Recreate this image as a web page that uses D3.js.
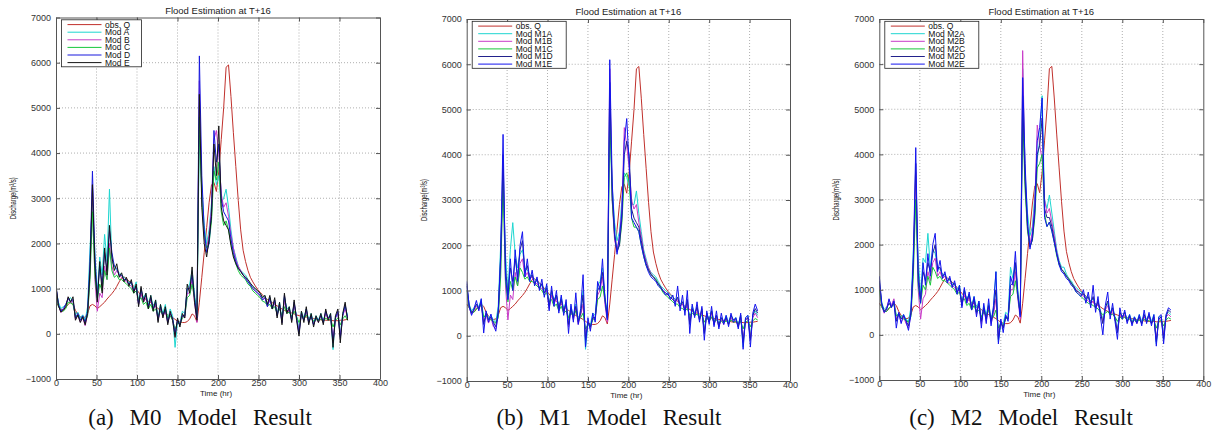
<!DOCTYPE html>
<html>
<head>
<meta charset="utf-8">
<script src="https://cdn.jsdelivr.net/npm/d3@7"></script>
<style>
  body { margin: 0; background: #fff; }
  text { font-family: "Liberation Sans", Arial, sans-serif; }
</style>
</head>
<body>
<svg id="chart" width="1214" height="432"></svg>
<script>
// hours of the event (3-hourly samples)
const hours = [0,3,6,9,12,15,18,21,24,27,30,33,36,39,42,45,48,51,54,57,60,63,66,69,72,75,78,81,84,87,
  90,93,96,99,102,105,108,111,114,117,120,123,126,129,132,135,138,141,144,147,150,153,156,159,162,165,168,171,174,177,
  180,183,186,189,192,195,198,201,204,207,210,213,216,219,222,225,228,231,234,237,240,243,246,249,252,255,258,261,264,267,
  270,273,276,279,282,285,288,291,294,297,300,303,306,309,312,315,318,321,324,327,330,333,336,339,342,345,348,351,354,357,360];

// observed discharge (same in all three panels)
const obsQ = [700,620,540,520,580,650,700,650,520,430,
  380,360,370,450,620,650,620,560,600,650,
  700,770,830,890,960,1050,1150,1240,1260,1220,
  1170,1110,1050,990,920,860,800,760,720,690,
  650,600,560,520,480,450,420,390,360,320,
  280,260,250,250,270,330,440,400,260,700,
  1250,1800,2350,2900,3300,3350,3150,3600,4300,5000,
  5900,5950,5250,4450,3700,2950,2300,1850,1600,1400,
  1250,1150,1060,980,920,860,800,760,720,690,
  650,620,580,550,520,500,480,460,440,420,
  400,390,380,370,360,350,340,330,320,310,
  300,300,300,300,290,290,290,300,300,310,
  320];

// M0 models
const m0A = [1000,700,560,600,640,760,800,700,420,480,
  350,420,300,600,1900,2900,1800,900,1700,1300,
  2200,1600,3200,1600,1500,1400,1350,1300,1250,1200,
  1150,1100,1000,1150,700,950,800,900,650,850,
  600,750,350,650,450,650,300,550,400,-300,
  250,250,500,450,1000,1100,1400,900,400,4400,
  3200,2400,2000,2300,2900,3700,3300,3500,2900,3000,
  3200,2800,2300,1900,1700,1500,1400,1350,1300,1200,
  1100,1050,1000,950,900,800,850,650,800,600,
  700,450,700,300,800,550,600,350,650,400,
  100,500,350,550,300,450,250,400,300,450,
  300,450,350,450,-350,400,450,0,450,600,
  400];
const m0B = [1020,640,470,540,620,800,680,740,320,400,
  260,350,180,420,1300,3300,1200,500,900,800,
  1500,1200,2000,1500,1300,1400,1300,1250,1200,1150,
  1100,1050,950,1000,650,900,700,800,600,750,
  550,650,300,550,380,500,250,450,300,-50,
  300,200,400,350,900,900,1200,700,250,5600,
  3000,2100,1900,2200,2800,4300,4500,4000,3100,2800,
  2900,2600,2200,1900,1650,1500,1400,1300,1250,1150,
  1080,1000,950,900,850,750,800,600,750,550,
  700,400,650,250,750,450,550,300,650,350,
  50,450,300,500,250,400,200,350,250,400,
  250,450,300,400,-150,350,450,-50,400,550,
  350];
const m0C = [950,600,520,500,560,700,680,650,400,380,
  320,350,280,400,1200,2700,1300,750,1100,950,
  1400,1200,1900,1400,1250,1300,1200,1200,1150,1100,
  1050,1000,900,950,750,800,650,700,550,650,
  500,550,400,500,420,550,350,400,300,100,
  250,200,350,400,800,850,1100,800,400,4800,
  3000,2200,1900,2000,2500,3600,3400,3800,2700,2400,
  2500,2300,2000,1750,1550,1400,1300,1250,1200,1100,
  1050,950,900,850,800,720,700,620,650,550,
  600,450,550,400,600,450,480,380,500,380,
  250,400,320,420,300,350,280,320,280,330,
  270,350,300,330,150,300,350,200,330,400,
  300];
const m0D = [1050,650,500,560,650,780,720,760,350,450,
  300,400,250,500,1600,3600,1700,800,1500,1100,
  1800,1400,2300,1800,1500,1450,1300,1300,1200,1200,
  1100,1150,950,1050,650,1000,750,850,600,800,
  550,700,300,600,400,550,250,450,350,0,
  300,200,400,400,1000,1000,1300,800,350,6150,
  3500,2300,1800,2000,2700,4500,3800,4200,3000,2700,
  2600,2500,2100,1800,1600,1450,1380,1300,1220,1150,
  1080,1000,950,900,850,750,800,600,800,550,
  750,400,650,250,850,500,550,300,700,350,
  0,450,300,550,250,400,200,350,300,400,
  250,500,350,400,-200,350,500,-100,400,650,
  350];
const m0E = [1080,620,480,520,600,820,700,820,300,420,
  250,380,200,450,1400,3300,1500,700,1600,900,
  1900,1300,2400,1700,1400,1550,1250,1350,1150,1250,
  1050,1200,900,1100,600,1050,700,900,550,850,
  500,750,250,650,350,600,200,500,300,-80,
  350,150,450,350,1100,900,1480,700,300,5300,
  2800,2000,1700,2100,2600,4200,3500,4600,2800,2500,
  2400,2300,1950,1700,1550,1450,1380,1300,1250,1200,
  1120,1050,1000,950,900,800,850,650,850,550,
  800,350,700,200,900,450,600,250,750,300,
  -50,500,250,600,200,450,150,400,250,450,
  200,550,300,450,-300,400,550,-200,450,700,
  300];

// M1 models
const m1A = [1100,700,550,620,680,650,800,400,480,400,
  450,350,300,650,2000,3400,1800,1000,1900,2500,
  1800,1500,1800,1900,1500,1450,1350,1300,1250,1200,
  1150,1100,1000,1100,700,950,800,900,650,850,
  600,750,350,650,450,700,350,550,1000,-300,
  250,250,500,450,1100,1200,1500,900,450,4800,
  3300,2500,2100,2300,3000,3600,3500,3300,2900,2900,
  3200,2700,2300,1900,1700,1500,1400,1350,1300,1200,
  1100,1050,1000,950,900,850,800,850,700,750,
  600,750,350,650,500,600,400,550,150,500,
  350,550,300,450,250,400,300,450,300,450,
  350,400,250,450,-250,400,450,0,450,550,
  450];
const m1B = [1100,620,480,550,650,580,700,300,450,280,
  400,200,150,450,1500,3700,1100,350,900,800,
  1400,1100,1600,1700,1300,1400,1250,1300,1150,1150,
  1050,1050,950,1000,600,900,700,850,550,800,
  500,700,200,600,350,600,250,450,700,-50,
  300,150,400,350,900,1000,1300,700,300,5900,
  3000,2100,1900,2200,2800,4600,4200,3700,3000,2800,
  2900,2500,2200,1850,1650,1500,1380,1300,1250,1150,
  1080,1000,950,900,850,800,750,800,650,700,
  550,700,300,600,450,600,350,550,100,450,
  300,500,250,400,200,350,250,400,250,400,
  300,350,200,400,-100,350,400,-50,400,500,
  400];
const m1C = [1000,620,520,520,600,620,680,420,450,380,
  350,320,280,400,1300,3400,1200,750,1200,1000,
  1300,1100,1500,1400,1250,1300,1200,1200,1150,1100,
  1050,1000,900,950,750,800,650,700,550,650,
  500,550,400,500,420,550,350,400,500,150,
  250,200,350,400,800,850,1100,800,400,5000,
  3000,2200,1900,2000,2500,3500,3600,3400,2600,2400,
  2400,2300,2000,1750,1550,1450,1350,1300,1250,1150,
  1050,950,900,850,800,750,700,700,620,600,
  550,600,450,500,450,480,400,450,300,400,
  320,420,300,350,280,320,280,330,270,350,
  300,320,260,330,150,300,330,200,330,380,
  350];
const m1D = [1150,680,500,580,700,600,750,250,500,350,
  420,300,200,550,1700,4000,1500,900,1500,1200,
  1700,1300,1900,2100,1400,1550,1250,1350,1150,1250,
  1050,1150,950,1050,650,1000,750,900,600,800,
  550,700,250,600,400,650,300,500,900,-100,
  300,200,400,400,1000,1100,1400,850,400,5600,
  3100,2200,1850,2000,2600,4000,4300,4000,2800,2600,
  2500,2400,2100,1800,1600,1450,1350,1300,1220,1150,
  1080,980,950,900,850,800,750,850,650,750,
  550,800,250,600,450,650,350,600,50,500,
  300,550,250,450,200,400,300,400,250,450,
  350,380,200,450,-150,350,400,-100,450,600,
  500];
const m1E = [1200,650,450,600,780,550,820,60,550,300,
  480,250,100,500,1800,4450,1300,800,1700,1000,
  1900,1200,2000,2300,1300,1700,1200,1450,1100,1300,
  1000,1250,850,1150,550,1100,650,1000,500,900,
  450,800,50,700,300,950,250,600,1350,-250,
  400,100,500,300,1200,1000,1700,800,350,6100,
  3400,2300,1800,2200,2700,4300,4800,3800,2600,2500,
  2400,2300,2000,1750,1550,1400,1300,1250,1200,1100,
  1050,1000,900,950,800,900,650,1100,550,900,
  450,1000,50,700,400,750,300,650,-100,550,
  250,650,200,550,150,500,250,450,200,500,
  300,400,150,500,-300,400,450,-250,500,700,
  550];

// M2 models
const m2A = [1150,720,560,620,700,650,780,420,480,400,
  450,350,300,600,1900,3000,1700,900,1700,1600,
  2250,1500,1900,1800,1500,1450,1350,1300,1250,1200,
  1150,1100,1000,1100,700,950,800,900,650,850,
  600,750,350,650,450,700,350,600,1400,-150,
  250,250,500,450,1500,1250,1600,1000,500,5900,
  3600,2700,2200,2400,3100,3900,4300,5300,3000,2800,
  3100,2700,2300,1900,1650,1500,1500,1350,1250,1200,
  1100,1050,1000,950,900,850,800,750,800,650,
  700,550,350,600,700,500,600,400,150,500,
  400,500,350,450,300,400,300,450,300,450,
  350,450,300,450,-200,400,400,50,450,500,
  450];
const m2B = [1100,650,480,600,780,650,800,350,450,280,
  400,250,150,450,1500,3600,1000,350,800,900,
  1400,1200,1600,1700,1300,1400,1250,1300,1150,1150,
  1100,1050,950,1000,650,900,700,850,550,800,
  450,700,250,600,300,600,250,450,800,-50,
  300,150,400,350,1000,1000,1400,800,350,6300,
  3500,2300,2000,2300,2900,4650,4200,3900,3000,2700,
  2800,2500,2200,1850,1600,1450,1400,1300,1250,1150,
  1080,1000,950,900,850,800,750,700,750,600,
  700,500,300,550,650,450,550,350,100,450,
  350,450,300,400,250,350,250,400,250,400,
  300,400,250,400,-100,350,350,0,400,450,
  400];
const m2C = [1000,620,520,520,600,620,680,420,450,380,
  350,320,280,400,1300,3000,1100,700,1100,1000,
  1300,1100,1500,1400,1250,1300,1200,1200,1150,1100,
  1050,1000,900,950,750,800,650,700,550,650,
  500,550,400,500,420,550,350,400,550,150,
  250,200,350,400,850,900,1200,850,450,4900,
  3200,2300,1950,2100,2600,3700,3800,4000,2700,2400,
  2500,2300,2050,1750,1550,1450,1400,1300,1250,1150,
  1050,950,900,850,800,750,700,680,650,600,
  580,500,450,480,520,450,450,400,300,400,
  350,400,320,350,280,320,280,330,270,350,
  300,320,270,330,150,300,320,200,330,380,
  350];
const m2D = [1200,680,520,580,700,620,720,300,480,350,
  420,320,200,500,1600,3800,1400,800,1400,1200,
  1600,1400,1800,2000,1450,1500,1300,1350,1200,1250,
  1100,1150,950,1050,650,1000,750,900,600,800,
  500,700,300,600,350,650,300,550,1000,-100,
  300,150,400,350,1100,1150,1600,900,450,5300,
  3400,2400,1950,2100,2700,4000,4200,4800,2800,2600,
  2600,2400,2100,1800,1600,1450,1380,1300,1220,1150,
  1080,980,950,900,900,800,850,700,850,600,
  750,500,250,600,750,450,600,350,50,500,
  400,500,300,420,250,380,280,400,250,450,
  300,450,250,400,-150,350,400,-100,400,550,
  500];
const m2E = [1300,700,500,550,800,600,750,150,500,250,
  450,300,100,450,1700,4150,1200,700,1600,1100,
  1800,1300,2000,2250,1400,1650,1250,1400,1150,1300,
  1050,1200,900,1100,600,1050,700,950,550,850,
  400,750,150,700,250,800,200,650,1400,-200,
  350,50,450,300,1300,1100,1850,900,400,5700,
  3800,2500,1900,2200,2800,4300,4600,5250,2600,2400,
  2500,2300,2050,1800,1550,1400,1350,1250,1200,1100,
  1050,950,900,850,1000,700,950,600,1100,500,
  850,400,0,650,950,350,700,300,-100,600,
  350,550,250,450,200,400,250,450,200,550,
  250,500,200,450,-250,400,450,-200,450,600,
  550];

const xTicks = [0,50,100,150,200,250,300,350,400];
const yTicks = [-1000,0,1000,2000,3000,4000,5000,6000,7000];
const legendM0 = ["obs. Q","Mod A","Mod B","Mod C","Mod D","Mod E"];
const legendM1 = ["obs. Q","Mod M1A","Mod M1B","Mod M1C","Mod M1D","Mod M1E"];
const legendM2 = ["obs. Q","Mod M2A","Mod M2B","Mod M2C","Mod M2D","Mod M2E"];
const captions = ["(a) M0 Model Result","(b) M1 Model Result","(c) M2 Model Result"];

const panels = [
  {left:56, right:380, top:17.5, bottom:379, legW:80, capX:200, series:[obsQ,m0A,m0B,m0C,m0D,m0E], labels:legendM0,
   colors:["#c0302c","#1ed6d0","#c83cc8","#18c83c","#1818dd","#151515"], caption:captions[0]},
  {left:466.7, right:790, top:19, bottom:381, legW:94, capX:609, series:[obsQ,m1A,m1B,m1C,m1D,m1E], labels:legendM1,
   colors:["#c0302c","#1ed6d0","#c83cc8","#18c83c","#22228c","#1414ee"], caption:captions[1]},
  {left:879.3, right:1203.3, top:19, bottom:380, legW:94, capX:1021, series:[obsQ,m2A,m2B,m2C,m2D,m2E], labels:legendM2,
   colors:["#c0302c","#1ed6d0","#c83cc8","#18c83c","#22228c","#1414ee"], caption:captions[2]}
];

const svg = d3.select("#chart");

function drawPanel(p, idx) {
  let x = d3.scaleLinear().domain([0, 400]).range([p.left, p.right]);
  let y = d3.scaleLinear().domain([-1000, 7000]).range([p.bottom, p.top]);
  let g = svg.append("g");

  g.append("rect")
    .attr("x", p.left).attr("y", p.top)
    .attr("width", p.right - p.left).attr("height", p.bottom - p.top)
    .attr("fill", "#fff");

  // dotted grid
  g.selectAll(".vgrid")
    .data(xTicks.slice(1, -1))
    .join("line")
    .attr("x1", d => x(d)).attr("x2", d => x(d))
    .attr("y1", p.top).attr("y2", p.bottom)
    .attr("stroke", "#9a9a9a").attr("stroke-width", 0.8)
    .attr("stroke-dasharray", "1,2");
  g.selectAll(".hgrid")
    .data(yTicks.slice(1, -1))
    .join("line")
    .attr("x1", p.left).attr("x2", p.right)
    .attr("y1", d => y(d)).attr("y2", d => y(d))
    .attr("stroke", "#9a9a9a").attr("stroke-width", 0.8)
    .attr("stroke-dasharray", "1,2");

  // series
  let clipId = "clip" + idx;
  svg.append("clipPath").attr("id", clipId)
    .append("rect")
    .attr("x", p.left).attr("y", p.top)
    .attr("width", p.right - p.left).attr("height", p.bottom - p.top);

  let line = d3.line()
    .x((d, i) => x(hours[i]))
    .y(d => y(d));

  g.append("g").attr("clip-path", "url(#" + clipId + ")")
    .selectAll("path")
    .data(p.series)
    .join("path")
    .attr("d", d => line(d))
    .attr("fill", "none")
    .attr("stroke", (d, i) => p.colors[i])
    .attr("stroke-width", 1)
    .attr("stroke-linejoin", "round");

  // axes, ticks pointing inward like matlab
  let fontCss = "font-family:'Liberation Sans',Arial,sans-serif;font-size:9px;fill:#333";
  g.append("g").attr("transform", `translate(0,${p.bottom})`)
    .call(d3.axisBottom(x).tickValues(xTicks).tickSizeInner(-4).tickSizeOuter(0).tickPadding(1).tickFormat(d3.format("d")));
  g.append("g").attr("transform", `translate(${p.left},0)`)
    .call(d3.axisLeft(y).tickValues(yTicks).tickSizeInner(-4).tickSizeOuter(0).tickPadding(5).tickFormat(d3.format("d")));
  g.append("g").attr("transform", `translate(0,${p.top})`)
    .call(d3.axisTop(x).tickValues(xTicks).tickSizeInner(-4).tickSizeOuter(0).tickFormat(""));
  g.append("g").attr("transform", `translate(${p.right},0)`)
    .call(d3.axisRight(y).tickValues(yTicks).tickSizeInner(-4).tickSizeOuter(0).tickFormat(""));
  g.selectAll(".tick text").attr("style", fontCss);
  g.selectAll(".domain").attr("stroke", "#555");
  g.selectAll(".tick line").attr("stroke", "#555");

  // legend
  let lx = p.left + 5.5, ly = p.top + 2.3;
  g.append("rect")
    .attr("x", lx).attr("y", ly)
    .attr("width", p.legW).attr("height", 47)
    .attr("fill", "#fff").attr("stroke", "#222").attr("stroke-width", 0.8);
  let items = g.selectAll(".leg")
    .data(p.labels)
    .join("g")
    .attr("transform", (d, i) => `translate(${lx},${ly + 4.8 + i * 7.6})`);
  items.append("line")
    .attr("x1", 6).attr("x2", 40).attr("y1", 0).attr("y2", 0)
    .attr("stroke", (d, i) => p.colors[i]).attr("stroke-width", 1);
  items.append("text")
    .attr("x", 43.5).attr("y", 0).attr("dy", "0.35em")
    .attr("font-size", 8.5).attr("fill", "#111")
    .text(d => d);

  let cx = (p.left + p.right) / 2;
  g.append("text")
    .attr("x", cx).attr("y", p.top - 4)
    .attr("text-anchor", "middle").attr("font-size", 9.5).attr("fill", "#222")
    .text("Flood Estimation at T+16");

  g.append("text")
    .attr("x", cx - 2).attr("y", p.bottom + 17)
    .attr("text-anchor", "middle").attr("font-size", 8).attr("fill", "#222")
    .text("Time (hr)");

  let ylx = p.left - 40, lyc = (p.top + p.bottom) / 2;
  g.append("text")
    .attr("transform", `translate(${ylx},${lyc}) rotate(-90)`)
    .attr("text-anchor", "middle").attr("font-size", 9).attr("fill", "#222")
    .attr("textLength", 42).attr("lengthAdjust", "spacingAndGlyphs")
    .text("Discharge(m³/s)");

  g.append("text")
    .attr("x", p.capX).attr("y", 425)
    .attr("text-anchor", "middle")
    .attr("style", "font-family:'Liberation Serif','DejaVu Serif',serif;font-size:23px;word-spacing:10px;fill:#111")
    .text(p.caption);
}

panels.forEach((p, i) => drawPanel(p, i));
</script>
</body>
</html>
